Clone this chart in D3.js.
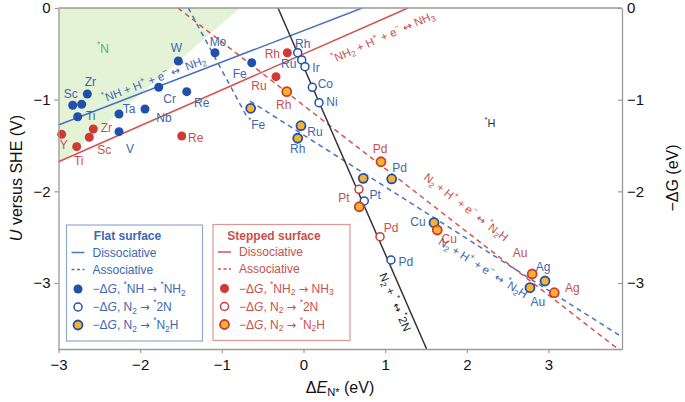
<!DOCTYPE html>
<html><head><meta charset="utf-8">
<script src="https://cdn.jsdelivr.net/npm/d3@7"></script>
<style>body{margin:0;background:#fff}svg{display:block}text{font-family:"Liberation Sans",Arial,Helvetica,sans-serif}</style>
</head><body><svg id="c" width="685" height="402"></svg>
<script>
// ---------- data ----------
const xTicks = [-3, -2, -1, 0, 1, 2, 3];
const yTicks = [0, -1, -2, -3];
const xDomain = [-3, 3.9];
const yDomain = [0, -3.72];

// flat surface, -ΔG *NH -> *NH2 (filled blue)
const flatNH = [
  {name:"Sc", x:-2.826, y:-1.061}, {name:"", x:-2.716, y:-1.050},
  {name:"Zr", x:-2.647, y:-0.938}, {name:"Ti", x:-2.765, y:-1.186},
  {name:"Ta", x:-2.259, y:-1.156}, {name:"V",  x:-2.259, y:-1.349},
  {name:"Nb", x:-1.941, y:-1.102}, {name:"Cr", x:-1.773, y:-0.865},
  {name:"Re", x:-1.430, y:-0.913}, {name:"W",  x:-1.533, y:-0.578},
  {name:"Mo", x:-1.084, y:-0.488}, {name:"Fe", x:-0.634, y:-0.597}
];
// stepped surface, -ΔG *NH2 -> NH3 (filled red)
const stepNH2 = [
  {name:"Y",  x:-2.961, y:-1.378}, {name:"Ti", x:-2.777, y:-1.513},
  {name:"Zr", x:-2.574, y:-1.320}, {name:"Sc", x:-2.623, y:-1.410},
  {name:"Re", x:-1.491, y:-1.396}, {name:"Rh", x:-0.198, y:-0.488},
  {name:"Ru", x:-0.337, y:-0.749}
];
// flat surface, -ΔG N2 -> *2N (open blue)
const flat2N = [
  {name:"Rh", x:-0.071, y:-0.488}, {name:"Ru", x:-0.022, y:-0.567},
  {name:"Ir", x:0.018, y:-0.640},  {name:"Co", x:0.108, y:-0.865},
  {name:"Ni", x:0.190, y:-1.033},  {name:"Pt", x:0.744, y:-2.105},
  {name:"Pd", x:1.071, y:-2.749}
];
// stepped surface, -ΔG N2 -> *2N (open red)
const step2N = [
  {name:"Pt", x:0.679, y:-1.978}, {name:"Pd", x:0.937, y:-2.495}
];
// flat surface, -ΔG N2 -> *N2H (orange, blue rim)
const flatN2H = [
  {name:"*Fe", x:-0.647, y:-1.094}, {name:"Ru", x:-0.031, y:-1.284},
  {name:"Rh", x:-0.071, y:-1.421},  {name:"Pt", x:0.732, y:-1.858},
  {name:"Pd", x:1.080, y:-1.865},   {name:"Cu", x:1.598, y:-2.342},
  {name:"Ag", x:2.957, y:-2.978},   {name:"Au", x:2.773, y:-3.051}
];
// stepped surface, -ΔG N2 -> *N2H (orange, red rim)
const stepN2H = [
  {name:"Rh", x:-0.205, y:-0.913}, {name:"Pd", x:0.949, y:-1.677},
  {name:"Pt", x:0.683, y:-2.168},  {name:"Cu", x:1.638, y:-2.422},
  {name:"Au", x:2.800, y:-2.902},  {name:"Ag", x:3.071, y:-3.106}
];

// limiting-potential lines (ΔE, U)
const flatDiss   = [[-3, -1.276], [0.72, 0]];
const stepDiss   = [[-3, -1.677], [1.28, 0]];
const twoNLine   = [[-0.312, 0], [1.507, -3.72]];
const stepAssoc  = [[-1.537, 0], [3.851, -3.72]];
const flatAssocA = [[-1.411, 0], [-0.692, -1.189]];
const flatAssocB = [[-0.655, -1.015], [3.9, -3.589]];
const nRegion    = [[-3, 0], [-0.778, 0], [-3, -1.713]];

// ---------- layout / style ----------
const C = {
  blueLine:"#4a74c2", redLine:"#d4534e", black:"#333",
  blueFill:"#2050ac", redFill:"#d13a34", orange:"#f6b42c",
  blueText:"#3d67b2", redText:"#c9504b", green:"#e4f2d6", greenText:"#62b05a"
};
const labelOff = {
  flatNH:{"Sc":[-2,-11],"Zr":[3,-12],"Ti":[13,-1],"Ta":[10,-5],"V":[11,17],"Nb":[19,9],"Cr":[11,12],"Re":[15,11],"W":[-2,-13],"Mo":[3,-11],"Fe":[-12,11]},
  stepNH2:{"Y":[2,11],"Ti":[2,14],"Zr":[13,-1],"Sc":[15,13],"Re":[14,2],"Rh":[-15,1],"Ru":[-17,9]},
  flat2N:{"Rh":[5,-9],"Ru":[-13,4.5],"Ir":[11,1],"Co":[13,-3],"Ni":[13,-1],"Pt":[11,-6],"Pd":[15,2]},
  step2N:{"Pt":[-15,9],"Pd":[11,-9]},
  flatN2H:{"*Fe":[6,16.5],"Ru":[14,6],"Rh":[0,11],"Pd":[8,-11],"Cu":[-16,-1],"Ag":[-2,-14],"Au":[8,14]},
  stepN2H:{"Rh":[-3,13],"Pd":[-1,-13],"Cu":[12,9],"Au":[-12,-21],"Ag":[18,-5]}
};

const svg = d3.select("#c");
const x = d3.scaleLinear().domain(xDomain).range([58.5, 622]);
const y = d3.scaleLinear().domain(yDomain).range([8, 349]);

// rich text: _x / _{..} subscript, ^x superscript, |..| italic, arrows in DejaVu
function rich(sel, str, size) {
  const parts = str.split(/(_\{[^}]*\}|\^\{[^}]*\}|_[^\s{]|\^[^\s{]|\|[^|]*\||[↔→])/).filter(s => s !== "");
  let cur = 0;
  parts.forEach(p => {
    let target = 0, txt = p, fs = size, it = false, arrow = false;
    if (p[0] === "_" || p[0] === "^") {
      txt = p[1] === "{" ? p.slice(2, -1) : p.slice(1);
      fs = size * 0.7;
      target = p[0] === "_" ? size * 0.3 : -size * 0.38;
    } else if (p[0] === "|") { txt = p.slice(1, -1); it = true; }
    else if (p === "↔" || p === "→") { arrow = true; }
    const t = sel.append("tspan").attr("font-size", fs).text(txt);
    if (target - cur !== 0) t.attr("dy", target - cur);
    if (it) t.attr("font-style", "italic");
    if (arrow) t.attr("font-family", '"DejaVu Sans",sans-serif').attr("font-size", fs * 0.95);
    cur = target;
  });
}

// green *N region
svg.append("path")
  .attr("d", d3.line().x(d => x(d[0])).y(d => y(d[1]))(nRegion) + "Z")
  .attr("fill", C.green);
svg.append("text").attr("x", 103).attr("y", 49).attr("text-anchor","middle")
  .attr("dominant-baseline","central").attr("fill", C.greenText).attr("font-size", 11)
  .call(s => rich(s, "^*N", 12));
svg.append("text").attr("x", 490).attr("y", 123).attr("text-anchor","middle")
  .attr("dominant-baseline","central").attr("fill", "#333").attr("font-size", 11)
  .call(s => rich(s, "^*H", 11));

// lines
const lineGen = d3.line().x(d => x(d[0])).y(d => y(d[1]));
function drawLine(pts, color, dashed) {
  svg.append("path").attr("d", lineGen(pts)).attr("fill", "none")
    .attr("stroke", color).attr("stroke-width", 1.5)
    .attr("stroke-dasharray", dashed ? "5,4" : null);
}
drawLine(flatAssocA, C.blueLine, true);
drawLine(flatAssocB, C.blueLine, true);
drawLine(stepAssoc, C.redLine, true);
drawLine(flatDiss, C.blueLine, false);
drawLine(stepDiss, C.redLine, false);
drawLine(twoNLine, C.black, false);

// line labels
function lineLabel(pts, atX, dx, dy, str, color) {
  const [p0, p1] = pts;
  const t = (atX - p0[0]) / (p1[0] - p0[0]);
  const yy = p0[1] + t * (p1[1] - p0[1]);
  const ang = Math.atan2(y(p1[1]) - y(p0[1]), x(p1[0]) - x(p0[0])) * 180 / Math.PI;
  const px = x(atX) + dx, py = y(yy) + dy;
  svg.append("text").attr("transform", `translate(${px},${py}) rotate(${ang})`)
    .attr("text-anchor", "middle").attr("dominant-baseline", "central")
    .attr("fill", color).attr("font-size", 11.5)
    .call(s => rich(s, str, 11.5));
}
lineLabel(flatDiss, -1.831, 0, -9, "^*NH + H^+ + e^− ↔ ^*NH_2", C.blueText);
lineLabel(stepDiss, 0.973, 0, 18, "^*NH_2 + H^+ + e^− ↔ NH_3", C.redText);
lineLabel(stepAssoc, 1.990, 0, -24, "N_2 + H^+ + e^− ↔ ^*N_2H", C.redText);
lineLabel(flatAssocB, 2.198, 0, 19, "N_2 + H^+ + e^− ↔ ^*N_2H", C.blueText);
lineLabel(twoNLine, 1.257, -11, 0, "N_2 + ^* ↔ ^*2N", "#222");

// points
function drawPts(data, key, kind, rim, textColor) {
  const g = svg.append("g");
  g.selectAll("circle").data(data).join("circle")
    .attr("cx", d => x(d.x)).attr("cy", d => y(d.y))
    .attr("r", kind === "open" ? 4 : 4.5)
    .attr("fill", kind === "filled" ? rim : kind === "open" ? "#fff" : C.orange)
    .attr("stroke", kind === "filled" ? "none" : rim)
    .attr("stroke-width", kind === "open" ? 1.5 : 1.8);
  const offs = labelOff[key];
  data.filter(d => d.name && offs[d.name]).forEach(d => {
    const [dx, dy] = offs[d.name];
    svg.append("text").attr("x", x(d.x) + dx).attr("y", y(d.y) + dy)
      .attr("text-anchor", "middle").attr("dominant-baseline", "central")
      .attr("fill", textColor).attr("font-size", 12)
      .call(s => rich(s, d.name.replace("*", "^*"), 12));
  });
}
drawPts(flatNH, "flatNH", "filled", C.blueFill, C.blueText);
drawPts(stepNH2, "stepNH2", "filled", C.redFill, C.redText);
drawPts(flat2N, "flat2N", "open", C.blueFill, C.blueText);
drawPts(step2N, "step2N", "open", C.redFill, C.redText);
drawPts(flatN2H, "flatN2H", "orange", C.blueFill, C.blueText);
drawPts(stepN2H, "stepN2H", "orange", C.redFill, C.redText);

// legends
function legend(x0, y0, w, h, boxColor, lineColor, rim, textColor, title, items) {
  const g = svg.append("g");
  g.append("rect").attr("x", x0).attr("y", y0).attr("width", w).attr("height", h)
    .attr("fill", "#fff").attr("stroke", boxColor).attr("stroke-width", 1.2);
  g.append("text").attr("x", x0 + 61).attr("y", y0 + 11).attr("text-anchor", "middle")
    .attr("dominant-baseline", "central").attr("font-weight", "bold")
    .attr("font-size", 12).attr("fill", textColor).text(title);
  const lx = x0 + 5, tx = x0 + 26;
  [["Dissociative", null], ["Associative", "3,2.5"]].forEach((r, i) => {
    const yy = y0 + 27.5 + i * 17;
    g.append("line").attr("x1", lx).attr("x2", lx + 13).attr("y1", yy).attr("y2", yy)
      .attr("stroke", lineColor).attr("stroke-width", 1.5).attr("stroke-dasharray", r[1]);
    g.append("text").attr("x", tx).attr("y", yy).attr("dominant-baseline", "central")
      .attr("font-size", 12).attr("fill", textColor).text(r[0]);
  });
  items.forEach((it, i) => {
    const yy = y0 + 64 + i * 18;
    g.append("circle").attr("cx", lx + 6.5).attr("cy", yy).attr("r", i === 1 ? 4 : 4.5)
      .attr("fill", i === 0 ? rim : i === 1 ? "#fff" : C.orange)
      .attr("stroke", i === 0 ? "none" : rim).attr("stroke-width", i === 1 ? 1.5 : 1.8);
    g.append("text").attr("x", tx).attr("y", yy).attr("dominant-baseline", "central")
      .attr("font-size", 12).attr("fill", textColor).call(s => rich(s, it, 12));
  });
}
legend(66.5, 225, 136, 116, "#93aad0", C.blueLine, C.blueFill, C.blueText, "Flat surface",
  ["−Δ|G|, ^*NH → ^*NH_2", "−Δ|G|, N_2 → ^*2N", "−Δ|G|, N_2 → ^*N_2H"]);
legend(213, 224.5, 137, 116, "#dc9794", C.redLine, C.redFill, C.redText, "Stepped surface",
  ["−Δ|G|, ^*NH_2 → NH_3", "−Δ|G|, N_2 → ^*2N", "−Δ|G|, N_2 → ^*N_2H"]);

// axes
const axisColor = "#9a9a9a";
const fmt = d3.format("d");
function styleAxis(g) {
  g.selectAll(".domain").attr("stroke", axisColor).attr("stroke-width", 1.3);
  g.selectAll(".tick line").attr("stroke", axisColor).attr("stroke-width", 1.2);
  g.selectAll(".tick text").attr("fill", "#111").attr("font-size", 15)
    .attr("font-family", '"Liberation Sans",Arial,sans-serif');
}
svg.append("line").attr("x1", 58.5).attr("x2", 622).attr("y1", 8).attr("y2", 8)
  .attr("stroke", axisColor).attr("stroke-width", 1.3);
svg.append("g").attr("transform", "translate(0,349)")
  .call(d3.axisBottom(x).tickValues(xTicks).tickFormat(fmt).tickSize(4).tickSizeOuter(0).tickPadding(6))
  .call(styleAxis);
svg.append("g").attr("transform", "translate(58.5,0)")
  .call(d3.axisLeft(y).tickValues(yTicks).tickFormat(fmt).tickSize(4).tickSizeOuter(0).tickPadding(4))
  .call(styleAxis);
svg.append("g").attr("transform", "translate(622,0)")
  .call(d3.axisRight(y).tickValues(yTicks).tickFormat(fmt).tickSize(-4).tickSizeOuter(0).tickPadding(5))
  .call(styleAxis);

// axis titles
svg.append("text").attr("transform", "translate(16,178) rotate(-90)")
  .attr("text-anchor", "middle").attr("dominant-baseline", "central")
  .attr("font-size", 16).attr("fill", "#111").call(s => rich(s, "|U| versus SHE (V)", 16));
svg.append("text").attr("transform", "translate(672,178) rotate(-90)")
  .attr("text-anchor", "middle").attr("dominant-baseline", "central")
  .attr("font-size", 16).attr("fill", "#111").call(s => rich(s, "−ΔG (eV)", 16));
svg.append("text").attr("x", 340).attr("y", 387)
  .attr("text-anchor", "middle").attr("dominant-baseline", "central")
  .attr("font-size", 16).attr("fill", "#111").call(s => rich(s, "Δ|E|_{N*} (eV)", 16));
</script></body></html>
